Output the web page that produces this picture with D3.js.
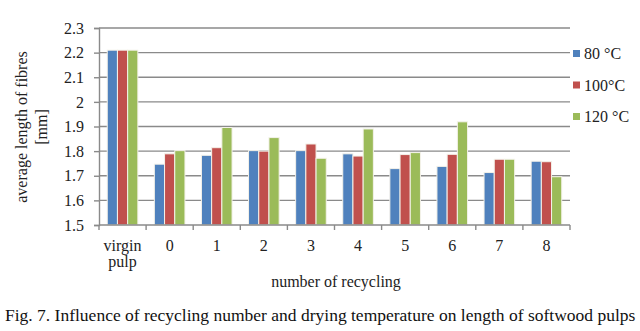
<!DOCTYPE html>
<html>
<head>
<meta charset="utf-8">
<script src="https://cdn.jsdelivr.net/npm/d3@7"></script>
<style>
  html, body { margin: 0; padding: 0; background: #fff; }
  svg { display: block; font-family: "Liberation Serif", "DejaVu Serif", serif; }
</style>
</head>
<body>
<svg id="chart" width="640" height="331"></svg>
<script>
// Average fibre length (mm) per recycling step, for three drying temperatures
const categories = ["virgin pulp", "0", "1", "2", "3", "4", "5", "6", "7", "8"];
const seriesNames = ["80 °C", "100°C", "120 °C"];
const values80  = [2.21, 1.747, 1.783, 1.802, 1.802, 1.789, 1.729, 1.738, 1.713, 1.759];
const values100 = [2.21, 1.789, 1.814, 1.800, 1.829, 1.780, 1.786, 1.787, 1.767, 1.757];
const values120 = [2.21, 1.802, 1.896, 1.855, 1.771, 1.890, 1.794, 1.919, 1.767, 1.696];
const yTicks = [1.5, 1.6, 1.7, 1.8, 1.9, 2, 2.1, 2.2, 2.3];
const colors = ["#4F81BD", "#C0504D", "#9BBB59"];

const series = [values80, values100, values120];
const svg = d3.select("#chart");

const plotLeft = 99, plotRight = 570, plotTop = 28, plotBottom = 225;

const x = d3.scaleBand().domain(categories).range([plotLeft, plotRight])
  .paddingInner(0.35).paddingOuter(0.175);
const xs = d3.scaleBand().domain(d3.range(series.length)).range([0, x.bandwidth()]);
const y = d3.scaleLinear().domain([1.5, 2.3]).range([plotBottom, plotTop]);

// horizontal gridlines
svg.append("g").selectAll("line").data(yTicks.slice(1)).join("line")
  .attr("x1", plotLeft).attr("x2", plotRight)
  .attr("y1", d => y(d)).attr("y2", d => y(d))
  .attr("stroke", "#8a8a8a").attr("stroke-width", 1.4);

// bars
const groups = svg.append("g").selectAll("g").data(categories).join("g")
  .attr("transform", d => `translate(${x(d)},0)`);
groups.selectAll("rect")
  .data((c, i) => series.map((s, k) => ({ k, v: s[i] })))
  .join("rect")
  .attr("x", d => xs(d.k))
  .attr("width", xs.bandwidth())
  .attr("y", d => y(d.v))
  .attr("height", d => y(1.5) - y(d.v))
  .attr("fill", d => colors[d.k])
  .attr("stroke", "#f4f2ea").attr("stroke-width", 1);

// y axis
const yAxis = d3.axisLeft(y).tickValues(yTicks).tickSize(5).tickPadding(10)
  .tickFormat(d => String(d));
const gy = svg.append("g").attr("transform", `translate(${plotLeft},0)`).call(yAxis);
gy.select(".domain").attr("stroke", "#8a8a8a").attr("stroke-width", 1.4);
gy.selectAll(".tick line").attr("stroke", "#8a8a8a").attr("stroke-width", 1.4);
gy.selectAll(".tick text").attr("font-family", "Liberation Serif").attr("font-size", 16)
  .attr("fill", "#222");

// x axis: ticks at category boundaries
const bounds = categories.map(c => x(c) - x.step() * x.paddingInner() / 2).concat([plotRight]);
svg.append("line").attr("x1", plotLeft).attr("x2", plotRight)
  .attr("y1", plotBottom).attr("y2", plotBottom)
  .attr("stroke", "#8a8a8a").attr("stroke-width", 1.4);
svg.append("g").selectAll("line").data(bounds).join("line")
  .attr("x1", d => d).attr("x2", d => d)
  .attr("y1", plotBottom).attr("y2", plotBottom + 5)
  .attr("stroke", "#8a8a8a").attr("stroke-width", 1.4);

// category labels
const xl = svg.append("g").attr("font-size", 16).attr("fill", "#222").attr("text-anchor", "middle");
categories.forEach(c => {
  const words = c.split(" ");
  const cx = x(c) + x.bandwidth() / 2;
  const t = xl.append("text").attr("x", cx).attr("y", 251);
  words.forEach((w, i) => {
    t.append("tspan").attr("x", cx).attr("dy", i === 0 ? 0 : 16).text(w);
  });
});

// axis titles
svg.append("text").attr("x", 336).attr("y", 287).attr("text-anchor", "middle")
  .attr("font-size", 16).attr("fill", "#222").text("number of recycling");
const yt = svg.append("g").attr("transform", "translate(0,127) rotate(-90)")
  .attr("text-anchor", "middle").attr("font-size", 16).attr("fill", "#222");
yt.append("text").attr("x", 0).attr("y", 27).text("average length of fibres");
yt.append("text").attr("x", 0).attr("y", 47).text("[mm]");

// legend
const lg = svg.append("g");
seriesNames.forEach((n, i) => {
  const cy = 54 + i * 31.5;
  lg.append("rect").attr("x", 573).attr("y", cy - 4).attr("width", 7).attr("height", 7)
    .attr("fill", colors[i]);
  lg.append("text").attr("x", 584).attr("y", cy + 5).attr("font-size", 16)
    .attr("fill", "#222").text(n);
});

// caption
svg.append("text").attr("x", 5).attr("y", 321).attr("font-size", 17.5).attr("fill", "#111")
  .text("Fig. 7. Influence of recycling number and drying temperature on length of softwood pulps");
</script>
</body>
</html>
